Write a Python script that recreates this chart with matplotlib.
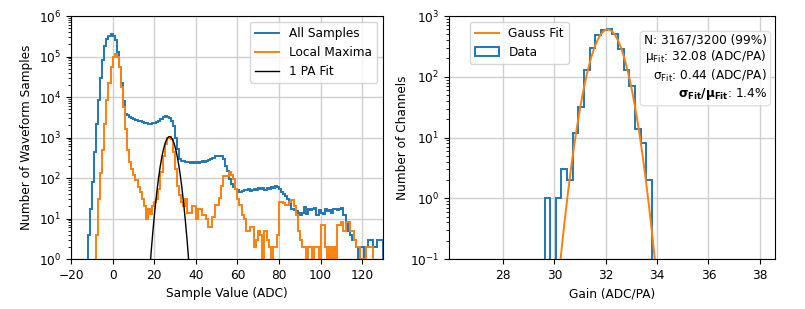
import numpy as np
import matplotlib
matplotlib.use('Agg')
import matplotlib.pyplot as plt
from matplotlib.lines import Line2D

plt.rcParams['font.size'] = 8.7
plt.rcParams['grid.color'] = '#cfcfcf'

#############
# Left data #
#############
# counts per 1-ADC bin, first bin starts at the given edge
all_start = -12
all_samples = [4, 17, 80, 450, 2100, 8300, 29000, 80000, 180000, 270000,
               320000, 350000, 330000, 250000, 130000, 55000, 22000, 8000, 3800, 3500,
               3300, 3100, 2900, 2700, 2600, 2500, 2400, 2300, 2250, 2200,
               2200, 2250, 2300, 2400, 2600, 2900, 3200, 3400, 3300, 3000,
               2500, 1900, 1000, 520, 300, 270, 260, 250, 250, 240,
               245, 240, 250, 240, 250, 265, 250, 270, 285, 300,
               320, 340, 350, 355, 340, 300, 200, 150, 95, 70,
               60, 55, 50, 45, 48, 52, 50, 55, 48, 52,
               55, 52, 58, 55, 56, 52, 58, 55, 60, 58,
               62, 60, 55, 44, 40, 35, 30, 24, 17, 16,
               15, 14, 12, 14, 19, 13, 17, 16, 17, 18,
               12, 16, 14, 13, 17, 15, 16, 14, 17, 17,
               16, 17, 18, 12, 8, 5, 4, 3, 3, 2,
               0, 2, 2, 1, 2, 3, 3, 2, 2, 3,
               3, 3]
max_start = -8
local_maxima = [4, 30, 130, 500, 2200, 8500, 22000, 56000, 100000, 115000,
                95000, 55000, 18000, 5700, 1600, 500, 250, 170, 120, 90,
                60, 45, 30, 20, 10, 17, 13, 20, 25, 30,
                55, 140, 350, 700, 1000, 1050, 900, 430, 165, 65,
                37, 25, 20, 30, 14, 14, 20, 20, 10, 17,
                17, 12, 12, 10, 6, 6, 11, 21, 21, 33,
                65, 110, 110, 115, 143, 120, 95, 53, 30, 21,
                12, 10, 5, 5, 6, 6, 2, 3, 5, 4,
                0, 5, 3, 2, 0, 2, 2, 4, 25, 25,
                24, 22, 21, 25, 28, 20, 12, 5, 3, 2,
                2, 1, 2, 2, 1, 2, 2, 1, 7, 7,
                2, 1, 2, 1, 2, 1, 7, 7, 8, 5,
                8, 8, 5, 5, 3, 2, 2, 1, 0, 1,
                2, 2, 2, 0]
# 1 PA gaussian fit parameters (amplitude, mean, sigma)
pa_fit = [1050, 27.4, 2.45]

##############
# Right data #
##############
gain_edges_start = 29.62
gain_bin_width = 0.22
gain_counts = [1, 0, 1, 3, 2, 12, 32, 130, 300, 480, 580, 600, 510, 290, 130, 70, 14, 8, 2]
gauss_fit = [600, 32.08, 0.44]


def gauss(x, a, mu, sigma):
    return a * np.exp(-0.5 * ((x - mu) / sigma) ** 2)


fig = plt.figure(figsize=(8.05, 3.09), dpi=100)
ax1 = fig.add_axes([0.0882, 0.1618, 0.3876, 0.7864])
ax2 = fig.add_axes([0.5578, 0.1618, 0.405, 0.7864])

# left panel
edges_all = np.arange(all_start, all_start + len(all_samples) + 1)
edges_max = np.arange(max_start, max_start + len(local_maxima) + 1)
ax1.hist(edges_all[:-1] + 0.5, bins=edges_all, weights=all_samples,
         histtype='step', color='C0', lw=1.4)
ax1.hist(edges_max[:-1] + 0.5, bins=edges_max, weights=local_maxima,
         histtype='step', color='C1', lw=1.4)
xf = np.linspace(10, 45, 400)
ax1.plot(xf, gauss(xf, *pa_fit), color='black', lw=1)
ax1.set_yscale('log')
ax1.set_xlim(-20, 130)
ax1.set_ylim(1, 1e6)
ax1.set_xticks(np.arange(-20, 121, 20))
ax1.set_xlabel('Sample Value (ADC)')
ax1.set_ylabel('Number of Waveform Samples')
ax1.grid(True, lw=1)
leg_handles = [Line2D([], [], color='C0', lw=1.4), Line2D([], [], color='C1', lw=1.4),
               Line2D([], [], color='black', lw=1)]
ax1.legend(leg_handles, ['All Samples', 'Local Maxima', '1 PA Fit'], loc='upper right')

# right panel
gain_edges = gain_edges_start + gain_bin_width * np.arange(len(gain_counts) + 1)
ax2.hist(gain_edges[:-1] + gain_bin_width / 2, bins=gain_edges, weights=gain_counts,
         histtype='step', color='C0', lw=1.4, label='Data')
xg = np.linspace(29, 35, 400)
ax2.plot(xg, gauss(xg, *gauss_fit), color='C1', lw=1.4, label='Gauss Fit')
ax2.set_yscale('log')
ax2.set_xlim(25.9, 38.6)
ax2.set_ylim(0.1, 1e3)
ax2.set_xticks([28, 30, 32, 34, 36, 38])
ax2.set_xlabel('Gain (ADC/PA)')
ax2.set_ylabel('Number of Channels', labelpad=1)
ax2.grid(True, lw=1)
h, l = ax2.get_legend_handles_labels()
ax2.legend([h[1], h[0]], [l[1], l[0]], loc='upper left', bbox_to_anchor=(0.045, 1.0))
txt = ('N: 3167/3200 (99%)\n'
       r'$\mathrm{\mu_{Fit}}$: 32.08 (ADC/PA)' + '\n'
       r'$\mathrm{\sigma_{Fit}}$: 0.44 (ADC/PA)' + '\n'
       r'$\mathbf{\sigma_{Fit}/\mu_{Fit}}$: 1.4%')
ax2.text(0.975, 0.93, txt, transform=ax2.transAxes, ha='right', va='top',
         multialignment='right',
         bbox=dict(boxstyle='round,pad=0.3', facecolor='white', edgecolor='#d8d8d8', alpha=0.8))

plt.savefig('out.png', dpi=100)
plt.close()
